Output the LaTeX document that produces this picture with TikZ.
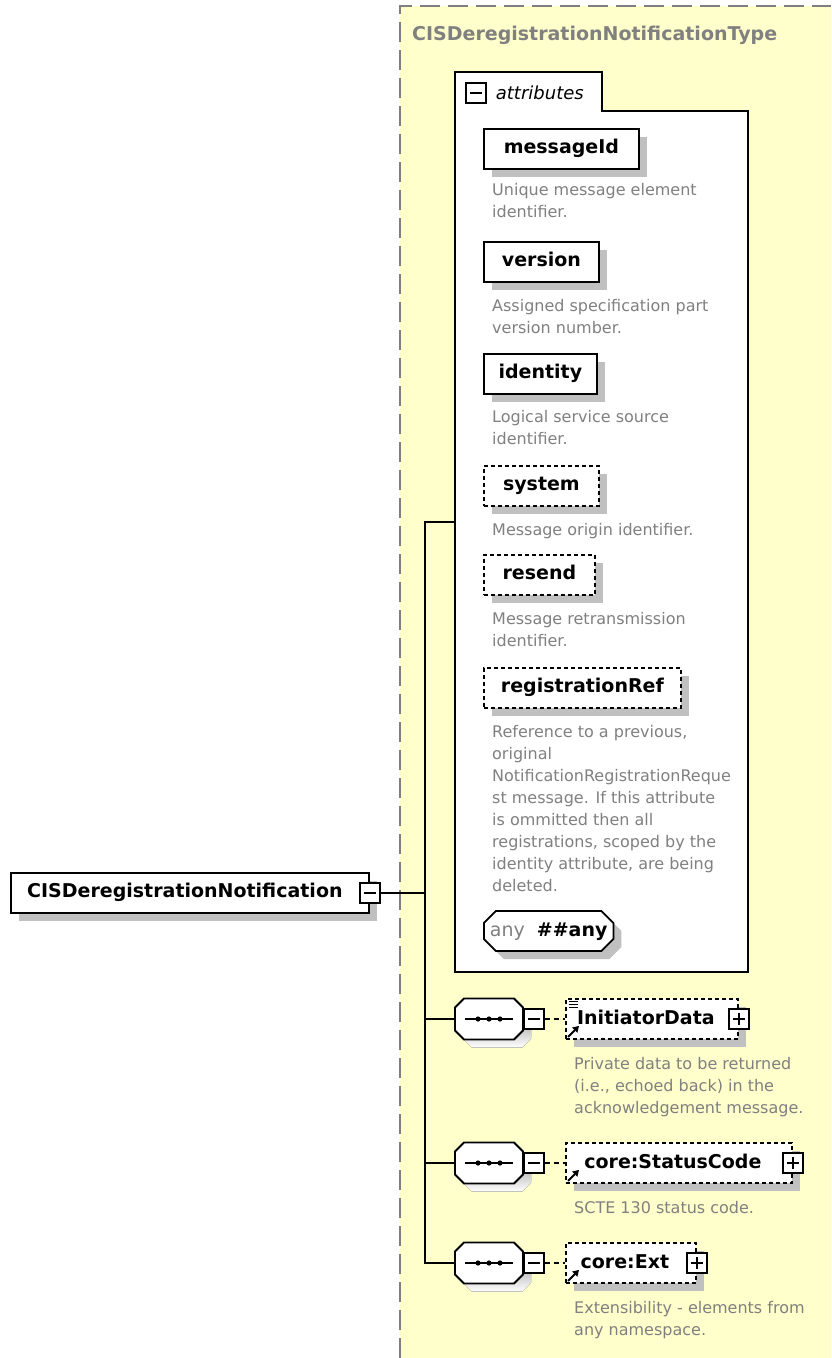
\documentclass[tikz,border=0pt]{standalone}
\usepackage{fontspec}
\setmainfont{DejaVu Sans}
\usetikzlibrary{shapes.misc,shadows,arrows.meta}

\definecolor{typefill}{RGB}{255,255,204}
\definecolor{docgray}{RGB}{128,128,128}
\definecolor{shade}{RGB}{192,192,192}

\newcommand\namefont{\fontsize{19}{22}\selectfont\bfseries}
\newcommand\docfont{\fontsize{16}{22}\selectfont}

\tikzset{
  elem/.style={draw, line width=1.8pt, fill=white, font=\namefont, minimum height=40pt,
    inner sep=0pt, text height=14pt, text depth=4pt, anchor=north west,
    drop shadow={shadow xshift=8pt, shadow yshift=-8pt, fill=shade, opacity=1}},
  optelem/.style={elem, dash pattern=on 4pt off 3pt},
  refelem/.style={optelem, anchor=west, execute at end node={\hspace{12pt}}},
  doc/.style={font=\docfont, text=docgray, align=left, anchor=north west, inner sep=0pt},
  icon/.style={draw, fill=white, line width=1.4pt, minimum size=20pt, inner sep=0pt},
  minusicon/.style={icon, path picture={
    \draw[black, line width=1.4pt] ([xshift=4pt]path picture bounding box.west) -- ([xshift=-4pt]path picture bounding box.east);}},
  plusicon/.style={icon, path picture={
    \draw[black, line width=1.4pt] ([xshift=4pt]path picture bounding box.west) -- ([xshift=-4pt]path picture bounding box.east);
    \draw[black, line width=1.4pt] ([yshift=-4pt]path picture bounding box.north) -- ([yshift=4pt]path picture bounding box.south);}},
  seq/.style={minimum width=68pt, minimum height=41pt, inner sep=0pt},
  octo/.style={line width=1.8pt, fill=white},
  link/.style={line width=1.8pt},
  refarrow/.style={line width=2pt, -{Triangle[length=6pt,width=7pt]}}
}

\begin{document}
\begin{tikzpicture}[x=1pt,y=-1pt]
  \useasboundingbox (0,0) rectangle (831,1358);

  % complex type area
  \fill[typefill] (400,6) rectangle (831,1358);
  \draw[docgray, line width=1.8pt, dash pattern=on 20pt off 8pt] (400,1358) -- (400,6) -- (831,6);
  \node[font=\namefont, text=docgray, anchor=base west, inner sep=0pt] (typename) at (412,40) {CISDeregistrationNotificationType};

  % attributes panel
  \draw[line width=1.8pt, fill=white] (455,72) -- (602,72) -- (602,111) -- (748,111) -- (748,972) -- (455,972) -- cycle;
  \node[minusicon] (attricon) at (476,93) {};
  \node[anchor=west, inner sep=0pt, font=\fontsize{18}{22}\selectfont\itshape] (attrlabel) at ([xshift=9pt]attricon.east) {attributes};

  \node[elem, minimum width=155pt] (messageid) at (483,128) {messageId};
  \node[doc] (messageiddoc) at (492,183) {Unique message element\\identifier.};
  \node[elem, minimum width=115pt] (version) at (483,241) {version};
  \node[doc] (versiondoc) at (492,299) {Assigned specification part\\version number.};
  \node[elem, minimum width=113pt] (identity) at (483,353) {identity};
  \node[doc] (identitydoc) at (492,410) {Logical service source\\identifier.};
  \node[optelem, minimum width=115pt] (system) at (483,465) {system};
  \node[doc] (systemdoc) at (492,523) {Message origin identifier.};
  \node[optelem, minimum width=111pt] (resend) at (483,554) {resend};
  \node[doc] (resenddoc) at (492,612) {Message retransmission\\identifier.};
  \node[optelem, minimum width=197pt] (regref) at (483,667) {registrationRef};
  \node[doc] (regrefdoc) at (492,725) {Reference to a previous,\\original\\NotificationRegistrationReque\\st message. If this attribute\\is ommitted then all\\registrations, scoped by the\\identity attribute, are being\\deleted.};
  \node[elem, chamfered rectangle, chamfered rectangle xsep=6pt, chamfered rectangle ysep=6pt,
    minimum width=127pt, anchor=west] (anyattr) at (483,931) {{\mdseries\color{docgray}any}\hspace{12pt}\#\#any};

  % root element
  \node[elem, minimum width=358pt, execute at end node={\hspace{10pt}}] (root) at (10,872) {CISDeregistrationNotification};
  \node[minusicon] (rooticon) at (root.east) {};

  % sequence compositors
  \foreach \y/\n in {1019/1,1163/2,1263/3} {
    \fill[shade] (472,\y-12.5) -- (522,\y-12.5) -- (531,\y-3.5) -- (531,\y+19.5) -- (522,\y+28.5)
      -- (472,\y+28.5) -- (463,\y+19.5) -- (463,\y-3.5) -- cycle;
    \draw[octo] (464,\y-20.5) -- (514,\y-20.5) -- (523,\y-11.5) -- (523,\y+11.5) -- (514,\y+20.5)
      -- (464,\y+20.5) -- (455,\y+11.5) -- (455,\y-11.5) -- cycle;
    \node[seq] (seq\n) at (489,\y) {};
    \draw[line width=1.8pt] ([xshift=-24pt]seq\n.center) -- ([xshift=24pt]seq\n.center);
    \foreach \d in {-11,0,11}
      \fill ([xshift=\d pt]seq\n.center) circle (2.6pt);
    \node[minusicon] (seqicon\n) at (534,\y) {};
  }

  % connectors
  \coordinate (trunktop) at (425,522);
  \coordinate (trunkend) at (425,1263);
  \coordinate (attrs) at (455,522);
  \draw[link] (rooticon.east) -- (rooticon.east -| trunktop);
  \draw[link] (attrs) -- (trunktop) -- (trunkend) -- (seq3.west);
  \draw[link] (trunktop |- seq1.west) -- (seq1.west);
  \draw[link] (trunktop |- seq2.west) -- (seq2.west);

  % child elements
  \node[refelem, minimum width=172pt] (initdata) at (565,1019) {InitiatorData};
  \node[refelem, minimum width=226pt] (statuscode) at (565,1163) {core:StatusCode};
  \node[refelem, minimum width=130pt] (ext) at (565,1263) {core:Ext};
  \foreach \s/\e in {1/initdata,2/statuscode,3/ext} {
    \draw[link, dash pattern=on 5pt off 4pt] (seqicon\s.east) -- (\e.west);
    \node[plusicon] (\e plus) at (\e.east) {};
    \draw[refarrow] ([shift={(3pt,3pt)}]\e.south west) -- ++(11pt,11pt);
  }
  \foreach \k in {0,3,6}
    \draw[line width=1.2pt] ([shift={(4pt,{-3pt-\k pt})}]initdata.north west) -- ++(9pt,0pt);

  \node[doc] (initdatadoc) at (574,1057) {Private data to be returned\\(i.e., echoed back) in the\\acknowledgement message.};
  \node[doc] (statuscodedoc) at (574,1201) {SCTE 130 status code.};
  \node[doc] (extdoc) at (574,1301) {Extensibility - elements from\\any namespace.};
\end{tikzpicture}
\end{document}
